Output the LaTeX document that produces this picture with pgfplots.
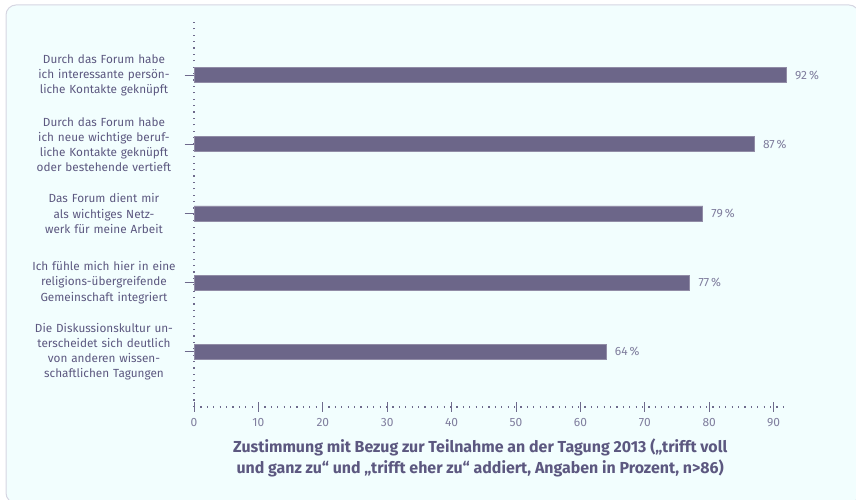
\documentclass[border=0pt]{standalone}
\usepackage{pgfplots}
\pgfplotsset{compat=1.18}
\usepackage{fontspec}
\setmainfont{Fira Sans}
\definecolor{bg}{RGB}{242,254,254}
\definecolor{framec}{RGB}{214,214,226}
\definecolor{barfill}{RGB}{108,102,137}
\definecolor{txt}{RGB}{92,88,128}
\definecolor{lighttxt}{RGB}{128,126,158}
\definecolor{axc}{RGB}{110,106,140}
\begin{document}
\begin{tikzpicture}[x=1bp,y=1bp]
\useasboundingbox (0,0) rectangle (856,500);
\fill[bg, draw=framec, line width=1bp, rounded corners=10bp] (6,-3) rectangle (859,495);
\begin{axis}[
  at={(194bp,93bp)}, anchor=origin,
  scale only axis, width=594.4bp, height=387bp,
  xbar, bar width=15bp,
  xmin=0, xmax=92.3, ymin=0.2, ymax=5.8,
  axis x line*=bottom, axis y line*=left,
  axis line style={-, axc, line width=1.1bp, dash pattern=on 1.1bp off 5.3bp},
  tick align=center, major tick length=10bp,
  x tick style={axc, line width=0.7bp, solid},
  y tick style={axc, line width=0.8bp, solid, xshift=-4.5bp},
  xtick={0,10,...,90},
  ytick={1,2,3,4,5},
  yticklabels={
    {Die Diskussionskultur un-\\terscheidet sich deutlich\\von anderen wissen-\\schaftlichen Tagungen},
    {Ich fühle mich hier in eine\\religions-übergreifende\\Gemeinschaft integriert},
    {Das Forum dient mir\\als wichtiges Netz-\\werk für meine Arbeit},
    {Durch das Forum habe\\ich neue wichtige beruf-\\liche Kontakte geknüpft\\oder bestehende vertieft},
    {Durch das Forum habe\\ich interessante persön-\\liche Kontakte geknüpft}},
  yticklabel style={font=\fontsize{11.8}{15.2}\selectfont, text width=150bp, align=center, text=txt, xshift=-6.5bp},
  xticklabel style={font=\fontsize{12}{13}\selectfont, text=lighttxt, yshift=-2.5bp},
  /pgf/number format/assume math mode=true,
  xlabel={Zustimmung mit Bezug zur Teilnahme an der Tagung 2013 („trifft voll\\und ganz zu“ und „trifft eher zu“ addiert, Angaben in Prozent, n>86)},
  xlabel style={align=center, font=\bfseries\fontsize{16}{20.5}\selectfont, text=txt, xshift=-11bp, yshift=-6bp},
  point meta=x,
  nodes near coords={\pgfmathprintnumber[assume math mode=true]{\pgfplotspointmeta}\,\%},
  every node near coord/.append style={font=\fontsize{12}{13}\selectfont, text=lighttxt, xshift=5bp},
  clip=false,
]
\addplot[fill=barfill, draw=barfill!75!white, line width=0.8bp] coordinates {
  (64,1) (77,2) (79,3) (87,4) (92,5)
};
\end{axis}
\end{tikzpicture}
\end{document}
